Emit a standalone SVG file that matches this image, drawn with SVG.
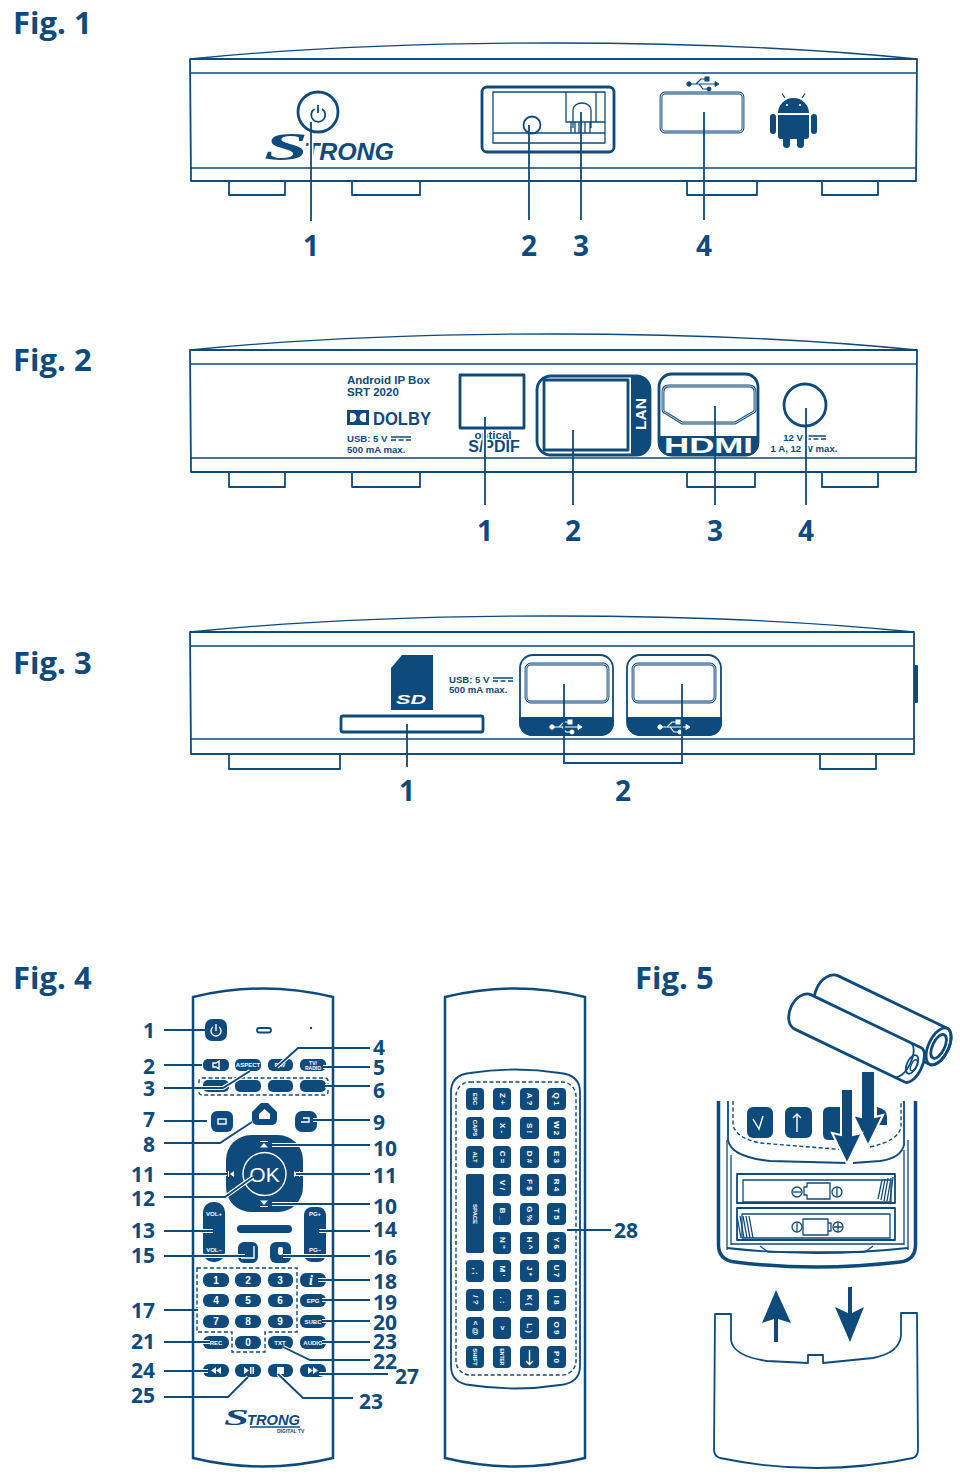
<svg xmlns="http://www.w3.org/2000/svg" width="960" height="1481" viewBox="0 0 960 1481">
<style>
text{font-family:"Liberation Sans",Arial,sans-serif;fill:#0e4a7c}
.fig{font-family:"Open Sans",sans-serif;font-weight:700;font-size:31px}
.n{font-family:"Open Sans",sans-serif;font-weight:700;font-size:28px;text-anchor:middle}
.r{font-family:"Open Sans",sans-serif;font-weight:700;font-size:21px;text-anchor:middle}
.o{fill:none;stroke:#0e4a7c;stroke-width:1.8;stroke-linejoin:round}
.t{fill:none;stroke:#0e4a7c;stroke-width:1.3;stroke-linejoin:round}
.b{fill:none;stroke:#0e4a7c;stroke-width:2.8;stroke-linejoin:round}
.hi{fill:none;stroke:#fff;stroke-width:.8}
.d{fill:#0e4a7c}
.wl{fill:none;stroke:#fff;stroke-width:1.4}
.wf{fill:#fff}
.dash{fill:none;stroke:#0e4a7c;stroke-width:1.4;stroke-dasharray:4 2.5}
.s{font-weight:700;font-size:11.5px}
.xs{font-weight:700;font-size:9.6px}
text.w{fill:#fff;font-weight:700;font-size:6px;text-anchor:middle;dominant-baseline:central}
text.kk{fill:#fff;font-weight:700;font-size:8px;text-anchor:middle;dominant-baseline:central}
text.num{fill:#fff;font-weight:700;font-size:10px;text-anchor:middle;dominant-baseline:central}
.logo{font-weight:700;font-style:italic}
</style>
<defs>
<g id="usbicon"><path d="M0 0H26M7 0L12-5H17M10 0L14 5H19" fill="none" stroke-width="1.2"/><circle cx="0" cy="0" r="2.2"/><path d="M26-2.5L30 0L26 2.5Z"/><rect x="16" y="-7" width="4" height="4"/><circle cx="20" cy="5" r="2"/></g>
<path id="dc" d="M0 0H20M0 3H5M7.5 3H12.5M15 3H20" fill="none" stroke="#0e4a7c" stroke-width="1.5"/>
<path id="rl" fill="none" d="M164 1030H205M164 1065H202M164 1088H223L250 1071M277 1067L298 1048H370M323 1067H370M325 1086H370M164 1121H207M164 1143H220L252 1122M313 1120H370M272 1145H370M164 1174H227M296 1174H370M164 1197H225L253 1177M272 1204H370M164 1231H213M319 1231H370M164 1256H245M283 1256H370M164 1310H198M318 1280H370M322 1300H370M322 1321H370M164 1342H210M322 1342H370M283 1347L310 1360H370M164 1371H208M319 1374H388M164 1397H228L248 1377M278 1374L303 1398H353"/>
<path id="r1" fill="none" stroke="#0e4a7c" stroke-width="2.5" d="M193 997Q263 980 333 997V1458Q263 1475 193 1458Z"/>
</defs>
<rect width="960" height="1481" fill="#fff"/>

<g id="fig1">
<text class="fig" x="13" y="34">Fig. 1</text>
<path class="t" d="M190 59Q350 43 553 43T917 59"/>
<path class="o" d="M190 59H917L916 181H191Z"/>
<path class="t" d="M190 73H917M190 168H917"/>
<path class="o" d="M229 182V195H285V182M352 182V195H420V182M687 182V195H757V182M822 182V195H878V182"/>
<g id="f1-power"><circle class="b" cx="318" cy="112" r="20"/><path class="o" d="M314.5 109A7 7 0 1 0 322 109M318 105V113"/></g>
<g id="f1-logo"><text class="logo" style="font-family:'Liberation Serif',serif" x="264" y="160" font-size="40" textLength="44" lengthAdjust="spacingAndGlyphs">S</text><text class="logo" x="304" y="160" font-size="24" textLength="90" lengthAdjust="spacingAndGlyphs">TRONG</text></g>
<g id="f1-ports"><rect class="b" x="482" y="87" width="132" height="65" rx="5"/><path class="t" d="M493 92H605V143H493Z"/><path class="t" d="M493 133H605M566 92V122H605M596 92V122"/><circle class="o" cx="532" cy="125" r="8.5"/><path class="t" d="M573 128V110A9 7 0 0 1 591 110V128M571 122V133M575 122V133M579 122V133M585 122V133M590 122V133"/></g>
<g id="f1-usb"><rect class="b" x="661" y="93" width="82" height="39" rx="4"/><rect class="hi" x="661" y="93" width="82" height="39" rx="4"/><use href="#usbicon" transform="translate(689 84)" fill="#0e4a7c" stroke="#0e4a7c"/></g>
<g id="f1-android" class="d"><path d="M778 113A15.5 15 0 0 1 809 113Z"/><path d="M785 98L782 93.5M802 98L805 93.5" stroke="#0e4a7c" stroke-width="1.3"/><path d="M778 115H809V136Q809 139 806 139H781Q778 139 778 136Z"/><rect x="770" y="114" width="6" height="20" rx="3"/><rect x="811" y="114" width="6" height="20" rx="3"/><rect x="783" y="136" width="7" height="12" rx="3.5"/><rect x="797" y="136" width="7" height="12" rx="3.5"/><circle class="wf" cx="787" cy="105" r="1.1"/><circle class="wf" cx="800" cy="105" r="1.1"/></g>
<text class="n" x="311" y="256">1</text><text class="n" x="529" y="256">2</text><text class="n" x="581" y="256">3</text><text class="n" x="704" y="256">4</text>
</g>

<g id="fig2">
<text class="fig" x="13" y="371">Fig. 2</text>
<path class="t" d="M190 350Q350 334 553 334T917 350"/>
<path class="o" d="M190 350H917L916 472H191Z"/>
<path class="t" d="M190 364H917M190 458H917"/>
<path class="o" d="M229 473V487H285V473M352 473V487H420V473M687 473V487H755V473M822 473V487H878V473"/>
<g id="f2-info"><text class="s" x="347" y="384">Android IP Box</text><text class="s" x="347" y="396">SRT 2020</text>
<rect class="d" x="347" y="410" width="22" height="15"/><path class="wf" d="M350 413H352A4.5 4.5 0 0 1 352 422H350ZM366 413H364A4.5 4.5 0 0 0 364 422H366Z"/><text x="373" y="425" font-weight="700" font-size="19" textLength="58" lengthAdjust="spacingAndGlyphs">DOLBY</text>
<text class="xs" x="347" y="442">USB: 5 V</text><use href="#dc" x="391" y="437"/><text class="xs" x="347" y="453">500 mA max.</text></g>
<g id="f2-spdif"><rect class="b" x="460" y="375" width="64" height="53"/><text x="493" y="439" font-size="11.5" font-weight="700" text-anchor="middle">optical</text><text x="494" y="452" font-size="16" font-weight="700" text-anchor="middle">S/PDIF</text></g>
<g id="f2-lan"><rect class="b" x="537" y="376" width="113" height="79" rx="14"/><path class="d" d="M631 375H637A14 14 0 0 1 651 389V442A14 14 0 0 1 637 456H631Z"/><rect class="b" x="544" y="380" width="84" height="70"/><text transform="rotate(-90 646 414)" x="646" y="414" style="fill:#fff" font-size="15.5" font-weight="700" text-anchor="middle">LAN</text></g>
<g id="f2-hdmi"><rect class="b" x="659" y="374" width="99" height="81" rx="13"/><path class="d" d="M658 436H759V443A13 13 0 0 1 746 456H671A13 13 0 0 1 658 443Z"/><path class="b" d="M669 386H749Q755 386 755 392V410Q755 412 752 413L735 423H682L666 413Q663 412 663 410V392Q663 386 669 386Z"/><path class="hi" d="M669 386H749Q755 386 755 392V410Q755 412 752 413L735 423H682L666 413Q663 412 663 410V392Q663 386 669 386Z"/><text x="664" y="453" style="fill:#fff" font-size="22" font-weight="700" textLength="89" lengthAdjust="spacingAndGlyphs">HDMI</text></g>
<g id="f2-power"><circle class="b" cx="805" cy="405" r="21"/><text class="xs" x="793" y="441" text-anchor="middle">12 V</text><use href="#dc" x="806" y="436"/><text class="xs" x="804" y="452" text-anchor="middle">1 A, 12 W max.</text></g>
<text class="n" x="485" y="541">1</text><text class="n" x="573" y="541">2</text><text class="n" x="715" y="541">3</text><text class="n" x="806" y="541">4</text>
</g>

<g id="fig3">
<text class="fig" x="13" y="674">Fig. 3</text>
<path class="t" d="M190 632Q350 616 553 616T914 632"/>
<path class="o" d="M190 632H914V754H191Z"/>
<path class="t" d="M190 646H914M190 739H914"/>
<path class="o" d="M229 755V769H340V755M820 755V769H876V755"/>
<rect class="d" x="914" y="665" width="4" height="38" rx="1"/>
<g id="f3-sd"><path class="d" d="M402 655H433V710H391V668Z"/><text x="411" y="704" text-anchor="middle" style="fill:#fff" font-size="12" font-weight="700" font-style="italic" textLength="30" lengthAdjust="spacingAndGlyphs">SD</text></g>
<rect id="f3-slot" class="b" x="341" y="716" width="142" height="16" rx="2"/>
<g id="f3-info"><text class="xs" x="449" y="683">USB: 5 V</text><use href="#dc" x="493" y="678"/><text class="xs" x="449" y="693">500 mA max.</text></g>
<g id="f3-usb1"><path class="d" d="M519 717H614V723A13 13 0 0 1 601 736H532A13 13 0 0 1 519 723Z"/><rect class="o" x="520" y="655" width="93" height="80" rx="13"/><rect class="b" x="526" y="664" width="82" height="38" rx="5"/><rect class="hi" x="526" y="664" width="82" height="38" rx="5"/><use href="#usbicon" transform="translate(552 727)" fill="#fff" stroke="#fff"/></g>
<g id="f3-usb2"><path class="d" d="M627 717H722V723A13 13 0 0 1 709 736H640A13 13 0 0 1 627 723Z"/><rect class="o" x="627" y="655" width="94" height="80" rx="13"/><rect class="b" x="633" y="664" width="82" height="38" rx="5"/><rect class="hi" x="633" y="664" width="82" height="38" rx="5"/><use href="#usbicon" transform="translate(660 727)" fill="#fff" stroke="#fff"/></g>
<text class="n" x="407" y="801">1</text><text class="n" x="623" y="801">2</text>
</g>

<g id="fig4-remote">
<text class="fig" x="13" y="989">Fig. 4</text>
<g id="r-top"><rect class="d" x="205" y="1019" width="22" height="22" rx="7"/><path class="wl" d="M213 1027A5 5 0 1 0 219 1027M216 1024V1031"/><rect class="o" x="257" y="1028" width="14" height="4.5" rx="2.2"/><circle class="d" cx="311" cy="1028" r="1.2"/></g>
<g id="r-row1"><rect class="d" x="203" y="1059" width="26" height="12" rx="5"/><path class="wl" d="M213 1063H216L219 1061V1069L216 1067H213Z" stroke-width=".6"/><rect class="d" x="235" y="1059" width="26" height="12" rx="5"/><text class="w" x="248" y="1065">ASPECT</text><rect class="d" x="268" y="1059" width="25" height="12" rx="5"/><text class="w" x="280" y="1065">FAV</text><rect class="d" x="300" y="1059" width="26" height="12" rx="5"/><text class="w" style="font-size:5px" x="313" y="1062.5">TV/</text><text class="w" style="font-size:5px" x="313" y="1067.5">RADIO</text></g>
<g id="r-color"><rect class="d" x="203" y="1080" width="26" height="12" rx="5"/><rect class="d" x="235" y="1080" width="26" height="12" rx="5"/><rect class="d" x="268" y="1080" width="25" height="12" rx="5"/><rect class="d" x="300" y="1080" width="26" height="12" rx="5"/><rect class="dash" x="199" y="1078" width="129" height="17" rx="3"/></g>
<g id="r-nav"><rect class="d" x="211" y="1111" width="22" height="21" rx="6"/><rect class="wl" x="218" y="1119" width="8" height="5" stroke-width=".8"/><path class="d" d="M252 1112L261 1103H268L277 1112V1119Q277 1125 271 1125H258Q252 1125 252 1119Z"/><path class="wf" d="M259 1114L264.5 1109L270 1114V1119H259Z"/><rect class="d" x="295" y="1111" width="22" height="21" rx="7"/><path class="wl" d="M301 1122H309V1118H303"/></g>
<g id="r-dpad"><rect class="d" x="226" y="1135" width="77" height="77" rx="25"/><circle class="wl" cx="264.5" cy="1174" r="21.5"/><text x="264.5" y="1182" text-anchor="middle" style="fill:#fff" font-size="21">OK</text><path class="wf" d="M260 1147.5L264 1143L268 1147.5ZM260 1141H268V1142H260ZM260 1200.5L264 1205L268 1200.5ZM260 1206H268V1207H260ZM234 1171L230 1174L234 1177ZM228 1171H229V1177H228ZM294 1171L298 1174L294 1177ZM299 1171H300V1177H299Z"/></g>
<g id="r-vol"><rect class="d" x="203" y="1202" width="22" height="60" rx="10"/><text class="w" x="214" y="1214">VOL+</text><text class="w" x="214" y="1250">VOL–</text><rect class="d" x="304" y="1207" width="22" height="55" rx="8"/><text class="w" x="315" y="1214">PG+</text><text class="w" x="315" y="1250">PG–</text><rect class="d" x="237" y="1225" width="55" height="8" rx="4"/></g>
<g id="r-mid"><rect class="d" x="238" y="1242" width="20" height="21" rx="6"/><path class="wl" d="M241 1258H254V1246" stroke-width="1"/><rect class="d" x="270" y="1242" width="21" height="21" rx="6"/><rect class="wf" x="278" y="1247" width="5" height="8" rx="2"/></g>
<g id="r-numpad">
<rect class="d" x="203" y="1273" width="26" height="14" rx="6"/><text class="num" x="216" y="1280">1</text><rect class="d" x="235" y="1273" width="26" height="14" rx="6"/><text class="num" x="248" y="1280">2</text><rect class="d" x="268" y="1273" width="25" height="14" rx="6"/><text class="num" x="280" y="1280">3</text><rect class="d" x="300" y="1273" width="26" height="14" rx="6"/><text x="309" y="1285" style="fill:#fff;font-family:'Liberation Serif',serif" font-size="14" font-weight="700" font-style="italic">i</text>
<rect class="d" x="203" y="1294" width="26" height="13" rx="6"/><text class="num" x="216" y="1300.5">4</text><rect class="d" x="235" y="1294" width="26" height="13" rx="6"/><text class="num" x="248" y="1300.5">5</text><rect class="d" x="268" y="1294" width="25" height="13" rx="6"/><text class="num" x="280" y="1300.5">6</text><rect class="d" x="300" y="1294" width="26" height="13" rx="6"/><text class="w" x="313" y="1300.5">EPG</text>
<rect class="d" x="203" y="1315" width="26" height="13" rx="6"/><text class="num" x="216" y="1321.5">7</text><rect class="d" x="235" y="1315" width="26" height="13" rx="6"/><text class="num" x="248" y="1321.5">8</text><rect class="d" x="268" y="1315" width="25" height="13" rx="6"/><text class="num" x="280" y="1321.5">9</text><rect class="d" x="300" y="1315" width="26" height="13" rx="6"/><text class="w" x="313" y="1321.5">SUBC</text>
<rect class="d" x="203" y="1336" width="26" height="13" rx="6"/><text class="w" x="216" y="1342.5">REC</text><rect class="d" x="235" y="1336" width="26" height="13" rx="6"/><text class="num" x="248" y="1342.5">0</text><rect class="d" x="268" y="1336" width="25" height="13" rx="6"/><text class="w" x="280" y="1342.5">TXT</text><rect class="d" x="300" y="1336" width="26" height="13" rx="6"/><text class="w" x="313" y="1342.5">AUDIO</text>
<path class="dash" d="M197 1268H297V1332H265V1352H232V1332H197Z"/>
<rect class="d" x="203" y="1364" width="26" height="13" rx="6"/><path class="wf" d="M216 1367L211 1370.5L216 1374ZM221 1367L216 1370.5L221 1374Z"/><rect class="d" x="235" y="1364" width="26" height="13" rx="6"/><path class="wf" d="M244 1367L249 1370.5L244 1374ZM250 1367H251.5V1374H250ZM252.5 1367H254V1374H252.5Z"/><rect class="d" x="268" y="1364" width="25" height="13" rx="6"/><rect class="wf" x="277" y="1367" width="7" height="7"/><rect class="d" x="300" y="1364" width="26" height="13" rx="6"/><path class="wf" d="M308 1367L313 1370.5L308 1374ZM313 1367L318 1370.5L313 1374Z"/>
</g>
<g id="r-logo"><text class="logo" style="font-family:'Liberation Serif',serif" x="224" y="1425" font-size="23" textLength="25" lengthAdjust="spacingAndGlyphs">S</text><text class="logo" x="247" y="1425" font-size="14.500" textLength="53" lengthAdjust="spacingAndGlyphs">TRONG</text><path class="t" d="M250 1427H300" stroke-width=".6"/><text x="277" y="1433" font-size="5" font-weight="700">DIGITAL TV</text></g>
</g>

<g id="remote-labels">
<text class="r" x="149" y="1038">1</text><text class="r" x="149" y="1074">2</text><text class="r" x="149" y="1096">3</text><text class="r" x="379" y="1055">4</text><text class="r" x="379" y="1075">5</text><text class="r" x="379" y="1098">6</text><text class="r" x="149" y="1127">7</text><text class="r" x="149" y="1152">8</text><text class="r" x="379" y="1130">9</text><text class="r" x="385" y="1156">10</text><text class="r" x="143" y="1182">11</text><text class="r" x="385" y="1183">11</text><text class="r" x="143" y="1206">12</text><text class="r" x="385" y="1214">10</text><text class="r" x="143" y="1238">13</text><text class="r" x="385" y="1237">14</text><text class="r" x="143" y="1263">15</text><text class="r" x="385" y="1265">16</text><text class="r" x="143" y="1318">17</text><text class="r" x="385" y="1289">18</text><text class="r" x="385" y="1310">19</text><text class="r" x="385" y="1330">20</text><text class="r" x="143" y="1349">21</text><text class="r" x="385" y="1349">23</text><text class="r" x="385" y="1369">22</text><text class="r" x="143" y="1378">24</text><text class="r" x="407" y="1384">27</text><text class="r" x="143" y="1403">25</text><text class="r" x="371" y="1409">23</text><text class="r" x="626" y="1238">28</text>
</g>

<g id="fig4-keyboard">
<path fill="none" stroke="#0e4a7c" stroke-width="2.5" d="M445 997Q515 980 585 997V1458Q515 1475 445 1458Z"/>
<path class="o" d="M451 1092Q451 1075 470 1073Q515 1066 560 1073Q580 1075 580 1092V1366Q580 1383 560 1385Q515 1392 470 1385Q451 1383 451 1366Z"/>
<rect class="dash" x="456" y="1082" width="120" height="293" rx="14"/>
<g class="d">
<rect x="466" y="1088" width="18" height="22" rx="4"/><rect x="466" y="1117" width="18" height="22" rx="4"/><rect x="466" y="1146" width="18" height="22" rx="4"/><rect x="466" y="1174" width="18" height="79" rx="2"/><rect x="466" y="1260" width="18" height="22" rx="4"/><rect x="466" y="1289" width="18" height="22" rx="4"/><rect x="466" y="1317" width="18" height="22" rx="4"/><rect x="466" y="1346" width="18" height="22" rx="4"/>
<rect x="493" y="1088" width="18" height="22" rx="4"/><rect x="493" y="1117" width="18" height="22" rx="4"/><rect x="493" y="1146" width="18" height="22" rx="4"/><rect x="493" y="1174" width="18" height="22" rx="4"/><rect x="493" y="1203" width="18" height="22" rx="4"/><rect x="493" y="1232" width="18" height="22" rx="4"/><rect x="493" y="1260" width="18" height="22" rx="4"/><rect x="493" y="1289" width="18" height="22" rx="4"/><rect x="493" y="1317" width="18" height="22" rx="4"/><rect x="493" y="1346" width="18" height="22" rx="4"/>
<rect x="520" y="1088" width="19" height="22" rx="4"/><rect x="520" y="1117" width="19" height="22" rx="4"/><rect x="520" y="1146" width="19" height="22" rx="4"/><rect x="520" y="1174" width="19" height="22" rx="4"/><rect x="520" y="1203" width="19" height="22" rx="4"/><rect x="520" y="1232" width="19" height="22" rx="4"/><rect x="520" y="1260" width="19" height="22" rx="4"/><rect x="520" y="1289" width="19" height="22" rx="4"/><rect x="520" y="1317" width="19" height="22" rx="4"/><rect x="520" y="1346" width="19" height="22" rx="4"/>
<rect x="547" y="1088" width="19" height="22" rx="4"/><rect x="547" y="1117" width="19" height="22" rx="4"/><rect x="547" y="1146" width="19" height="22" rx="4"/><rect x="547" y="1174" width="19" height="22" rx="4"/><rect x="547" y="1203" width="19" height="22" rx="4"/><rect x="547" y="1232" width="19" height="22" rx="4"/><rect x="547" y="1260" width="19" height="22" rx="4"/><rect x="547" y="1289" width="19" height="22" rx="4"/><rect x="547" y="1317" width="19" height="22" rx="4"/><rect x="547" y="1346" width="19" height="22" rx="4"/>
</g>
<g id="key-labels">
<text class="w" transform="rotate(90 475 1099)" x="475" y="1099">ESC</text><text class="w" transform="rotate(90 475 1128)" x="475" y="1128">CAPS</text><text class="w" transform="rotate(90 475 1157)" x="475" y="1157">ALT</text><text class="w" transform="rotate(90 475 1214)" x="475" y="1214">SPACE</text><text class="kk" transform="rotate(90 475 1271)" x="475" y="1271">, ;</text><text class="kk" transform="rotate(90 475 1300)" x="475" y="1300">/ ?</text><text class="kk" transform="rotate(90 475 1328)" x="475" y="1328">&lt; @</text><text class="w" transform="rotate(90 475 1357)" x="475" y="1357">SHIFT</text>
<text class="kk" transform="rotate(90 502 1099)" x="502" y="1099">Z +</text><text class="kk" transform="rotate(90 502 1128)" x="502" y="1128">X -</text><text class="kk" transform="rotate(90 502 1157)" x="502" y="1157">C =</text><text class="kk" transform="rotate(90 502 1185)" x="502" y="1185">V /</text><text class="kk" transform="rotate(90 502 1214)" x="502" y="1214">B _</text><text class="kk" transform="rotate(90 502 1243)" x="502" y="1243">N "</text><text class="kk" transform="rotate(90 502 1271)" x="502" y="1271">M '</text><text class="kk" transform="rotate(90 502 1300)" x="502" y="1300">. :</text><text class="kk" transform="rotate(90 502 1328)" x="502" y="1328">&gt;</text><text class="w" transform="rotate(90 502 1357)" x="502" y="1357" style="font-size:5px">ENTER</text>
<text class="kk" transform="rotate(90 529.5 1099)" x="529.5" y="1099">A ?</text><text class="kk" transform="rotate(90 529.5 1128)" x="529.5" y="1128">S !</text><text class="kk" transform="rotate(90 529.5 1157)" x="529.5" y="1157">D #</text><text class="kk" transform="rotate(90 529.5 1185)" x="529.5" y="1185">F $</text><text class="kk" transform="rotate(90 529.5 1214)" x="529.5" y="1214">G %</text><text class="kk" transform="rotate(90 529.5 1243)" x="529.5" y="1243">H ^</text><text class="kk" transform="rotate(90 529.5 1271)" x="529.5" y="1271">J *</text><text class="kk" transform="rotate(90 529.5 1300)" x="529.5" y="1300">K (</text><text class="kk" transform="rotate(90 529.5 1328)" x="529.5" y="1328">L )</text><path class="wl" d="M529.5 1350V1364M526 1361L529.5 1364.5L533 1361"/>
<text class="kk" transform="rotate(90 556.5 1099)" x="556.5" y="1099">Q 1</text><text class="kk" transform="rotate(90 556.5 1128)" x="556.5" y="1128">W 2</text><text class="kk" transform="rotate(90 556.5 1157)" x="556.5" y="1157">E 3</text><text class="kk" transform="rotate(90 556.5 1185)" x="556.5" y="1185">R 4</text><text class="kk" transform="rotate(90 556.5 1214)" x="556.5" y="1214">T 5</text><text class="kk" transform="rotate(90 556.5 1243)" x="556.5" y="1243">Y 6</text><text class="kk" transform="rotate(90 556.5 1271)" x="556.5" y="1271">U 7</text><text class="kk" transform="rotate(90 556.5 1300)" x="556.5" y="1300">I 8</text><text class="kk" transform="rotate(90 556.5 1328)" x="556.5" y="1328">O 9</text><text class="kk" transform="rotate(90 556.5 1357)" x="556.5" y="1357">P 0</text>
</g>
</g>

<g id="fig5">
<text class="fig" x="635" y="989">Fig. 5</text>
<g id="f5-cover"><path class="o" d="M715 1314H731V1340Q733 1356 767 1361L808 1363V1355H823V1363L873 1358Q899 1353 901 1336V1313H917L918 1450Q918 1456 913 1458Q866 1468 817 1468Q768 1468 720 1458Q714 1456 714 1450Z"/>
<path class="d" d="M776 1290L791 1323L778 1319V1342H774V1319L762 1323Z"/><path class="d" d="M848 1287H852V1313L864 1307L850 1342L835 1307L848 1313Z"/></g>
<g id="f5-remote">
<path d="M718.5 1101V1245Q718.5 1260 735 1262Q815 1272 900 1262Q915.5 1260 915.5 1245V1101" fill="none" stroke="#0e4a7c" stroke-width="3.5"/>
<path class="o" d="M728 1101V1140Q731 1157 770 1161L847 1163M853 1163L880 1161Q901 1158 904 1145V1101"/>
<path class="dash" d="M733 1101V1125Q736 1138 760 1143L847 1150M870 1147Q901 1140 901 1125V1101"/>
<rect class="d" x="747" y="1107" width="26" height="31" rx="6"/><path class="wl" d="M753 1119L759 1129L763 1116"/><rect class="d" x="785" y="1107" width="27" height="31" rx="6"/><path class="wl" d="M797 1132V1114M793 1118L797 1114L801 1118"/><path class="d" d="M829 1107H840V1140H829Q823 1140 823 1134V1113Q823 1107 829 1107Z"/><path class="d" d="M877 1107Q887 1109 887 1117V1125L877 1125Z"/>
<path class="t" d="M731 1155V1245M904 1150V1245M727 1140V1250M908 1140V1250"/>
<rect class="o" x="737" y="1174" width="158" height="29"/><rect class="t" x="743" y="1180" width="148" height="22"/>
<rect class="o" x="737" y="1208" width="158" height="32"/><rect class="t" x="742" y="1214" width="148" height="24"/>
<path class="t" d="M807 1183H830V1199H807V1195H804V1187H807ZM803 1219H828V1235H803ZM828 1223H831V1231H828Z"/>
<circle class="t" cx="797" cy="1192" r="5"/><path class="t" d="M793 1192H801"/><circle class="t" cx="837" cy="1192" r="5"/><path class="t" d="M837 1188V1196"/><circle class="t" cx="797" cy="1227" r="5"/><path class="t" d="M797 1223V1231"/><circle class="t" cx="838" cy="1227" r="5"/><path class="t" d="M834 1227H842M838 1223V1231"/>
<path class="t" d="M878 1199L882 1180M881 1200L885 1179M884 1201L888 1178M887 1201L891 1178M890 1201L893 1177M737 1216L741 1238M740 1216L744 1238M743 1216L747 1238M746 1216L750 1238M749 1216L753 1238"/>
<path class="o" d="M727 1248Q815 1258 908 1248"/><path class="t" d="M760 1246L768 1252H865L873 1246M731 1244H904"/>
</g>
<g id="f5-batteries">
<g transform="translate(830 993) rotate(25.7)"><path class="b" style="fill:#fff" d="M0 -19H121A10 20 0 0 1 121 21H0A14 20 0 0 1 0 -19Z"/><ellipse class="b" cx="121" cy="1" rx="10" ry="20"/><ellipse class="b" cx="121" cy="1" rx="6" ry="13"/></g>
<g transform="translate(803 1012) rotate(25.7)"><path class="b" style="fill:#fff" d="M0 -19H122A9 19 0 0 1 122 19H0A13 19 0 0 1 0 -19Z"/><path class="o" d="M110 -19A9 19 0 0 1 110 19"/><ellipse class="o" cx="121" cy="0" rx="5" ry="10"/><ellipse class="t" cx="123" cy="0" rx="2.5" ry="6"/></g>
</g>
<g id="f5-arrows" stroke="#fff" stroke-width="2" fill="#0e4a7c">
<path d="M861 1071H875V1117L883 1115L868 1146L853 1115L861 1117Z"/>
<path d="M841 1089H853V1135L862 1133L847 1164L832 1133L841 1135Z"/>
</g>
</g>

<g id="connectors" fill="none">
<path stroke="#fff" stroke-width="5" d="M311 135V165M485 431V455M806 434V456"/>
<path stroke="#0e4a7c" stroke-width="1.8" d="M311 122V221M529 125V220M581 112V220M704 112V220M485 417V505M573 430V505M715 406V505M806 408V505M407 724V767M564 684V763H682V684"/>
<use href="#rl" stroke="#fff" stroke-width="4"/>
<use href="#r1"/>
<use href="#rl" stroke="#0e4a7c" stroke-width="1.8"/>
<path stroke="#0e4a7c" stroke-width="1.8" d="M567 1230H611"/>
</g>
</svg>
